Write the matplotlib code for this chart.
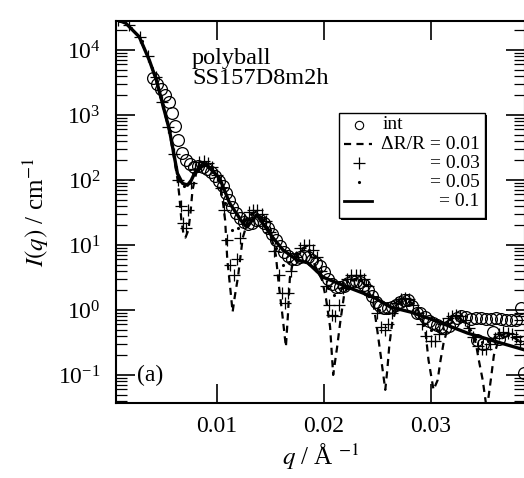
import matplotlib
matplotlib.use('Agg')
import matplotlib.pyplot as plt
from matplotlib.ticker import MultipleLocator, NullLocator, FormatStrFormatter, LogLocator
from matplotlib.patches import Rectangle

plt.rcParams['font.family'] = ['Liberation Serif', 'DejaVu Serif']
plt.rcParams['mathtext.fontset'] = 'stix'

q_int = [0.00408, 0.00446, 0.00484, 0.00521, 0.00559, 0.00587, 0.00615, 0.00643,
         0.00681, 0.00718, 0.00756, 0.00793, 0.00831, 0.00869, 0.00906, 0.00944,
         0.00981, 0.01019, 0.01056, 0.01085, 0.01113, 0.01141, 0.01178, 0.01216,
         0.01254, 0.01291, 0.01329, 0.01366, 0.01404, 0.01441, 0.01479, 0.01516,
         0.01554, 0.01592, 0.01629, 0.01667, 0.01704, 0.01742, 0.01779, 0.01817,
         0.01854, 0.01892, 0.01930, 0.01967, 0.02005, 0.02042, 0.02080, 0.02117,
         0.02155, 0.02192, 0.02230, 0.02268, 0.02305, 0.02343, 0.02380, 0.02418,
         0.02455, 0.02493, 0.02531, 0.02568, 0.02606, 0.02643, 0.02681, 0.02718,
         0.02756, 0.02793, 0.02831, 0.02869, 0.02906, 0.02944, 0.02981, 0.03019,
         0.03056, 0.03094, 0.03131, 0.03169, 0.03207, 0.03244, 0.03282, 0.03329,
         0.03376, 0.03423, 0.03470, 0.03516, 0.03563, 0.03610, 0.03657, 0.03704,
         0.03751, 0.03798, 0.03845, 0.03430, 0.03490, 0.03580, 0.03640, 0.03873]
I_int = [3700, 3000, 2500, 2000, 1580, 1070, 680, 410,
         260, 205, 178, 158, 164, 158, 148, 132,
         115, 97, 81, 63, 49, 38, 31, 26,
         22.6, 21, 21.9, 24.3, 24, 21.9, 18.3, 14.7,
         11.9, 9.7, 7.8, 6.8, 6.1, 6.1, 6.5, 6.8,
         6.5, 5.9, 5.3, 4.75, 3.85, 3.0, 2.5, 2.26,
         2.26, 2.34, 2.6, 2.8, 2.8, 2.7, 2.4, 2.04,
         1.64, 1.33, 1.15, 1.07, 1.07, 1.11, 1.19, 1.33,
         1.43, 1.43, 1.15, 0.9, 0.9, 0.78, 0.68, 0.63,
         0.59, 0.55, 0.53, 0.57, 0.65, 0.75, 0.81, 0.78,
         0.73, 0.75, 0.75, 0.73, 0.73, 0.75, 0.73, 0.70,
         0.70, 0.70, 1.07, 0.35, 0.30, 0.46, 0.36, 0.107]

# --- fit dR/R = 0.01 (dashed) ---
q_01 = [0.0006, 0.0015, 0.00277, 0.00371, 0.00437, 0.00493, 0.00559, 0.00606,
        0.00634, 0.00653, 0.00671, 0.0069, 0.00709, 0.00737, 0.00756, 0.00775,
        0.00812, 0.00869, 0.00934, 0.0100, 0.0103, 0.0106, 0.0108, 0.0110,
        0.0113, 0.0115, 0.0117, 0.0120, 0.0122, 0.01245, 0.0131, 0.0138,
        0.0145, 0.0150, 0.01554, 0.01582, 0.0161, 0.01648, 0.01667, 0.01685,
        0.01714, 0.0178, 0.01845, 0.0192, 0.01986, 0.02023, 0.02061, 0.0209,
        0.02127, 0.02155, 0.02192, 0.02249, 0.02333, 0.02418, 0.02465, 0.02502,
        0.0254, 0.02577, 0.02596, 0.02615, 0.02643, 0.0269, 0.02765, 0.0286,
        0.02916, 0.02953, 0.02981, 0.03028, 0.03066, 0.03094, 0.03122, 0.03169,
        0.03272, 0.03376, 0.03423, 0.03451, 0.03488, 0.03526, 0.03563, 0.03592,
        0.03638, 0.0374, 0.0389]
I_01 = [2.9e4, 2.6e4, 1.6e4, 7000, 3400, 1500, 560, 200,
        105, 55, 24, 15, 13, 17, 31, 70,
        133, 182, 172, 120, 95, 45, 24, 6,
        2, 0.93, 1.6, 3.2, 6, 13, 29, 33,
        22, 16, 7, 2.4, 1.0, 0.27, 0.84, 3.1,
        5.5, 8.4, 9.7, 4.8, 2.9, 1.5, 0.55, 0.1,
        0.27, 0.63, 1.7, 2.7, 3.2, 2.0, 1.3, 0.49,
        0.17, 0.059, 0.12, 0.29, 0.65, 1.2, 1.43, 1.2,
        0.76, 0.46, 0.17, 0.059, 0.083, 0.17, 0.31, 0.59,
        0.76, 0.49, 0.31, 0.17, 0.083, 0.029, 0.083, 0.2,
        0.35, 0.41, 0.29]

# --- fit dR/R = 0.03 (plus markers) ---
q_03 = [0.0008, 0.0018, 0.0028, 0.0036, 0.0043, 0.0049, 0.0055, 0.0060,
        0.0064, 0.0067, 0.0069, 0.0071, 0.0073, 0.0076, 0.0080, 0.0084,
        0.0088, 0.0092, 0.0096, 0.0100, 0.0104, 0.0107, 0.0110, 0.0113,
        0.0116, 0.0119, 0.0122, 0.0126, 0.0130, 0.0134, 0.0138, 0.0142,
        0.0146, 0.0150, 0.0154, 0.0158, 0.0161, 0.0164, 0.0167, 0.0170,
        0.0174, 0.0178, 0.0182, 0.0186, 0.0190, 0.0194, 0.0198, 0.0202,
        0.0205, 0.0208, 0.0211, 0.0214, 0.0218, 0.0222, 0.0226, 0.0230,
        0.0234, 0.0238, 0.0242, 0.0246, 0.0250, 0.0254, 0.0257, 0.0260,
        0.0264, 0.0268, 0.0272, 0.0276, 0.0280, 0.0284, 0.0288, 0.0292,
        0.0296, 0.0300, 0.0304, 0.0308, 0.0312, 0.0316, 0.0320, 0.0324,
        0.0328, 0.0332, 0.0336, 0.0340, 0.0344, 0.0348, 0.0352, 0.0356,
        0.0360, 0.0364, 0.0368, 0.0372, 0.0376, 0.0380, 0.0384]
I_03 = [2.85e4, 2.4e4, 1.6e4, 8000, 3800, 1600, 650, 250,
        100, 40, 22, 18, 35, 90, 150, 190,
        195, 185, 160, 120, 75, 35, 12, 5,
        3.5, 6, 13, 24, 32, 35, 35, 30,
        23, 16, 8, 3.5, 1.8, 1.3, 1.8, 4,
        6.5, 9, 10, 10, 8.5, 6.5, 4, 2.3,
        1.2, 0.85, 0.8, 1.2, 2.2, 3.0, 3.4, 3.5,
        3.4, 3.0, 2.3, 1.6, 0.9, 0.55, 0.5, 0.6,
        0.9, 1.3, 1.5, 1.55, 1.45, 1.2, 0.9, 0.6,
        0.4, 0.33, 0.33, 0.42, 0.6, 0.75, 0.82, 0.85,
        0.82, 0.7, 0.52, 0.38, 0.28, 0.25, 0.25, 0.3,
        0.37, 0.42, 0.45, 0.44, 0.42, 0.38, 0.33]

# --- fit dR/R = 0.05 (small dots) ---
q_05 = [0.0010, 0.0020, 0.0030, 0.0040, 0.0048, 0.0056, 0.0062, 0.0066,
        0.0070, 0.0074, 0.0078, 0.0084, 0.0090, 0.0096, 0.0102, 0.0108,
        0.0114, 0.0120, 0.0126, 0.0132, 0.0138, 0.0144, 0.0150, 0.0156,
        0.0162, 0.0168, 0.0174, 0.0180, 0.0186, 0.0192, 0.0198, 0.0204,
        0.0210, 0.0216, 0.0222, 0.0228, 0.0234, 0.0240, 0.0246, 0.0252,
        0.0258, 0.0264, 0.0270, 0.0276, 0.0282, 0.0288, 0.0294, 0.0300,
        0.0306, 0.0312, 0.0318, 0.0324, 0.0330, 0.0336, 0.0342, 0.0348,
        0.0354, 0.0360, 0.0366, 0.0372, 0.0378, 0.0384]
I_05 = [2.75e4, 2.2e4, 1.4e4, 5200, 1900, 560, 160, 95,
        80, 90, 130, 170, 175, 150, 100, 45,
        17, 18, 25, 30, 30, 25, 17, 9,
        5, 5.5, 7.5, 8.5, 8.5, 6.5, 4, 2.2,
        1.7, 2.2, 2.8, 3.0, 2.9, 2.4, 1.6, 1.0,
        0.9, 1.1, 1.35, 1.4, 1.25, 0.9, 0.6, 0.5,
        0.5, 0.62, 0.73, 0.76, 0.68, 0.5, 0.36, 0.32,
        0.33, 0.38, 0.41, 0.41, 0.38, 0.33]

# --- fit dR/R = 0.1 (thick solid) ---
q_1 = [0.0006, 0.0015, 0.00277, 0.00371, 0.00437, 0.00493, 0.00559, 0.00606,
       0.00634, 0.00681, 0.00728, 0.00765, 0.00793, 0.0084, 0.00906, 0.01028,
       0.01122, 0.01244, 0.01282, 0.01376, 0.01526, 0.0162, 0.01751, 0.01854,
       0.01995, 0.0222, 0.02465, 0.02624, 0.02812, 0.03028, 0.03347, 0.03657,
       0.0389]
I_1 = [2.95e4, 2.6e4, 1.6e4, 7000, 3460, 1530, 590, 225,
       126, 89, 83, 100, 126, 158, 170, 107,
       44, 22, 19, 29, 13, 8.4, 5.9, 5.3,
       3.2, 2.26, 1.58, 1.11, 0.93, 0.70, 0.44, 0.31,
       0.24]

legend_labels = ['int', 'ΔR/R = 0.01', '= 0.03', '= 0.05', '= 0.1']

fig = plt.figure(figsize=(5.24, 4.78), dpi=100)
# right spine sits just past the picture edge, as in the scanned original
ax = fig.add_axes([0.2214, 0.1569, 0.7805, 0.7992])

ax.plot(q_01, I_01, color='black', lw=1.6, ls=(0, (3.2, 2.4)), zorder=2)
ax.plot(q_03, I_03, ls='none', marker='+', ms=9, mew=0.9, color='black', zorder=3)
ax.plot(q_05, I_05, ls='none', marker='.', ms=2.5, color='black', zorder=3)
ax.plot(q_1, I_1, color='black', lw=2.4, zorder=4)
ax.plot(q_int, I_int, ls='none', marker='o', ms=8.5, mfc='none', mec='black', mew=0.9, zorder=5)

ax.set_yscale('log')
ax.set_xlim(0.0006, 0.03883)
ax.set_ylim(0.037, 2.8e4)

ax.xaxis.set_major_locator(MultipleLocator(0.01))
ax.xaxis.set_major_formatter(FormatStrFormatter('%.2f'))
ax.xaxis.set_minor_locator(NullLocator())
ax.yaxis.set_major_locator(LogLocator(base=10))
ax.yaxis.set_minor_locator(LogLocator(base=10, subs=range(2, 10)))

ax.tick_params(which='both', direction='in', top=True, right=True, labelsize=17)
ax.tick_params(which='major', length=14, width=1.2)
ax.tick_params(which='minor', length=8, width=0.9)
ax.tick_params(axis='x', pad=9)
ax.tick_params(axis='y', pad=11)
for s in ax.spines.values():
    s.set_linewidth(1.5)

ax.set_ylabel(r'$I(q)$ / cm$^{-1}$', fontsize=18, labelpad=5)
ax.set_xlabel(r'$q$ / Å $^{-1}$', fontsize=18, labelpad=4)

ax.text(0.186, 0.93, 'polyball\nSS157D8m2h', transform=ax.transAxes,
        fontsize=17.5, va='top', ha='left', linespacing=0.95)
ax.text(0.052, 0.073, '(a)', transform=ax.transAxes, fontsize=17, va='center', ha='left')

# legend box, drawn by hand so the numbers can be right-aligned
tr = ax.transAxes
ax.add_patch(Rectangle((0.551, 0.478), 0.357, 0.275, transform=tr, facecolor='black',
                       edgecolor='none', zorder=6))
ax.add_patch(Rectangle((0.546, 0.484), 0.357, 0.275, transform=tr, facecolor='white',
                       edgecolor='black', lw=1.0, zorder=7))
rows = [0.728, 0.677, 0.627, 0.578, 0.528]
hx = [0.558, 0.627]
hc = 0.594
ax.plot([hc], [rows[0]], transform=tr, marker='o', ms=6, mfc='none', mec='black', mew=0.8, zorder=8)
ax.plot(hx, [rows[1]] * 2, transform=tr, color='black', lw=1.6, ls=(0, (3.2, 2.4)), zorder=8)
ax.plot([hc], [rows[2]], transform=tr, marker='+', ms=8, mew=0.9, color='black', zorder=8)
ax.plot([hc], [rows[3]], transform=tr, marker='.', ms=2.5, color='black', zorder=8)
ax.plot(hx, [rows[4]] * 2, transform=tr, color='black', lw=2.0, zorder=8)
ax.text(0.651, rows[0], legend_labels[0], transform=tr, fontsize=14, va='center', ha='left', zorder=9)
for r, lab in zip(rows[1:], legend_labels[1:]):
    ax.text(0.889, r, lab, transform=tr, fontsize=14, va='center', ha='right', zorder=9)

fig.savefig('out.png', dpi=100)
